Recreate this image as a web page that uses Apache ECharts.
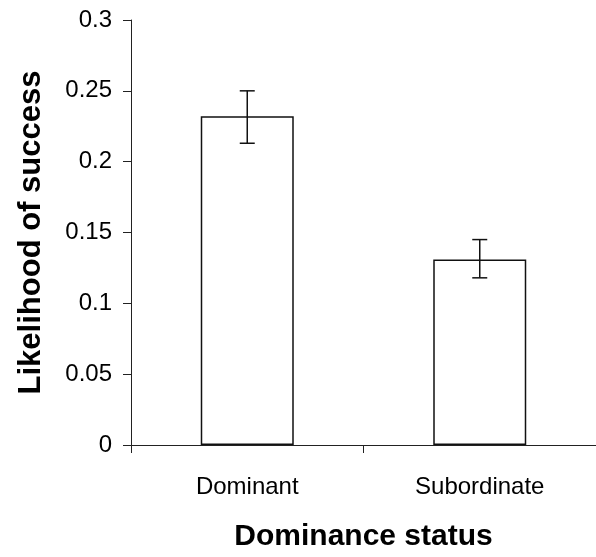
<!DOCTYPE html>
<html>
<head>
<meta charset="utf-8">
<title>Likelihood of success by dominance status</title>
<script src="https://cdn.jsdelivr.net/npm/echarts@6/dist/echarts.min.js"></script>
<style>
  html, body {
    margin: 0;
    padding: 0;
    background: #ffffff;
  }
  #chart {
    width: 596px;
    height: 557px;
  }
</style>
</head>
<body>
<div id="chart"></div>
<script>
// data
var categories = ["Dominant", "Subordinate"];
var means = [0.232, 0.131];
var errHigh = [0.25, 0.145];
var errLow = [0.213, 0.118];
var yTicks = [0, 0.05, 0.1, 0.15, 0.2, 0.25, 0.3];

// error bar rows for the custom series: [index, low, high]
var errRows = categories.map(function (c, i) {
  return [i, errLow[i], errHigh[i]];
});

var myChart = echarts.init(document.getElementById("chart"));

var option = {
  backgroundColor: "#ffffff",
  animation: false,
  textStyle: {
    fontFamily: "Liberation Sans, Arial, sans-serif",
    color: "#000",
  },
  grid: {
    left: 131,
    top: 20,
    width: 472.6, // axis runs past the right edge in the original
    height: 432.5,
  },
  xAxis: {
    type: "category",
    data: categories,
    name: "Dominance status",
    nameLocation: "middle",
    nameGap: 77,
    nameTextStyle: {
      fontSize: 30,
      fontWeight: "bold",
      color: "#000",
      fontFamily: "Liberation Sans, Arial, sans-serif",
    },
    axisLine: { lineStyle: { color: "#222", width: 1 } },
    axisTick: { show: true, length: 8, lineStyle: { color: "#222" } },
    axisLabel: {
      fontSize: 24,
      color: "#000",
      margin: 30,
    },
    splitLine: { show: false },
  },
  yAxis: {
    type: "value",
    min: yTicks[0],
    max: yTicks[yTicks.length - 1],
    interval: 0.05,
    name: "Likelihood of success",
    nameLocation: "middle",
    nameGap: 84,
    nameTextStyle: {
      fontSize: 31,
      fontWeight: "bold",
      color: "#000",
      fontFamily: "Liberation Sans, Arial, sans-serif",
    },
    axisLine: { show: true, lineStyle: { color: "#222", width: 1 } },
    axisTick: { show: true, length: 8, lineStyle: { color: "#222" } },
    axisLabel: {
      fontSize: 24,
      color: "#000",
      margin: 19,
    },
    splitLine: { show: false },
  },
  series: [
    {
      name: "mean",
      type: "bar",
      data: means,
      barWidth: "40%",
      itemStyle: {
        color: "#ffffff",
        borderColor: "#111",
        borderWidth: 1.5,
      },
      z: 2,
    },
    {
      name: "error",
      type: "custom",
      data: errRows,
      encode: { x: 0, y: [1, 2] },
      z: 3,
      renderItem: function (params, api) {
        var idx = api.value(0);
        var lo = api.coord([idx, api.value(1)]);
        var hi = api.coord([idx, api.value(2)]);
        var half = 7.5;
        var st = { stroke: "#111", lineWidth: 1.5 };
        return {
          type: "group",
          children: [
            { type: "line", shape: { x1: hi[0], y1: hi[1], x2: lo[0], y2: lo[1] }, style: st },
            { type: "line", shape: { x1: hi[0] - half, y1: hi[1], x2: hi[0] + half, y2: hi[1] }, style: st },
            { type: "line", shape: { x1: lo[0] - half, y1: lo[1], x2: lo[0] + half, y2: lo[1] }, style: st },
          ],
        };
      },
    },
  ],
};

option && myChart.setOption(option);
</script>
</body>
</html>
